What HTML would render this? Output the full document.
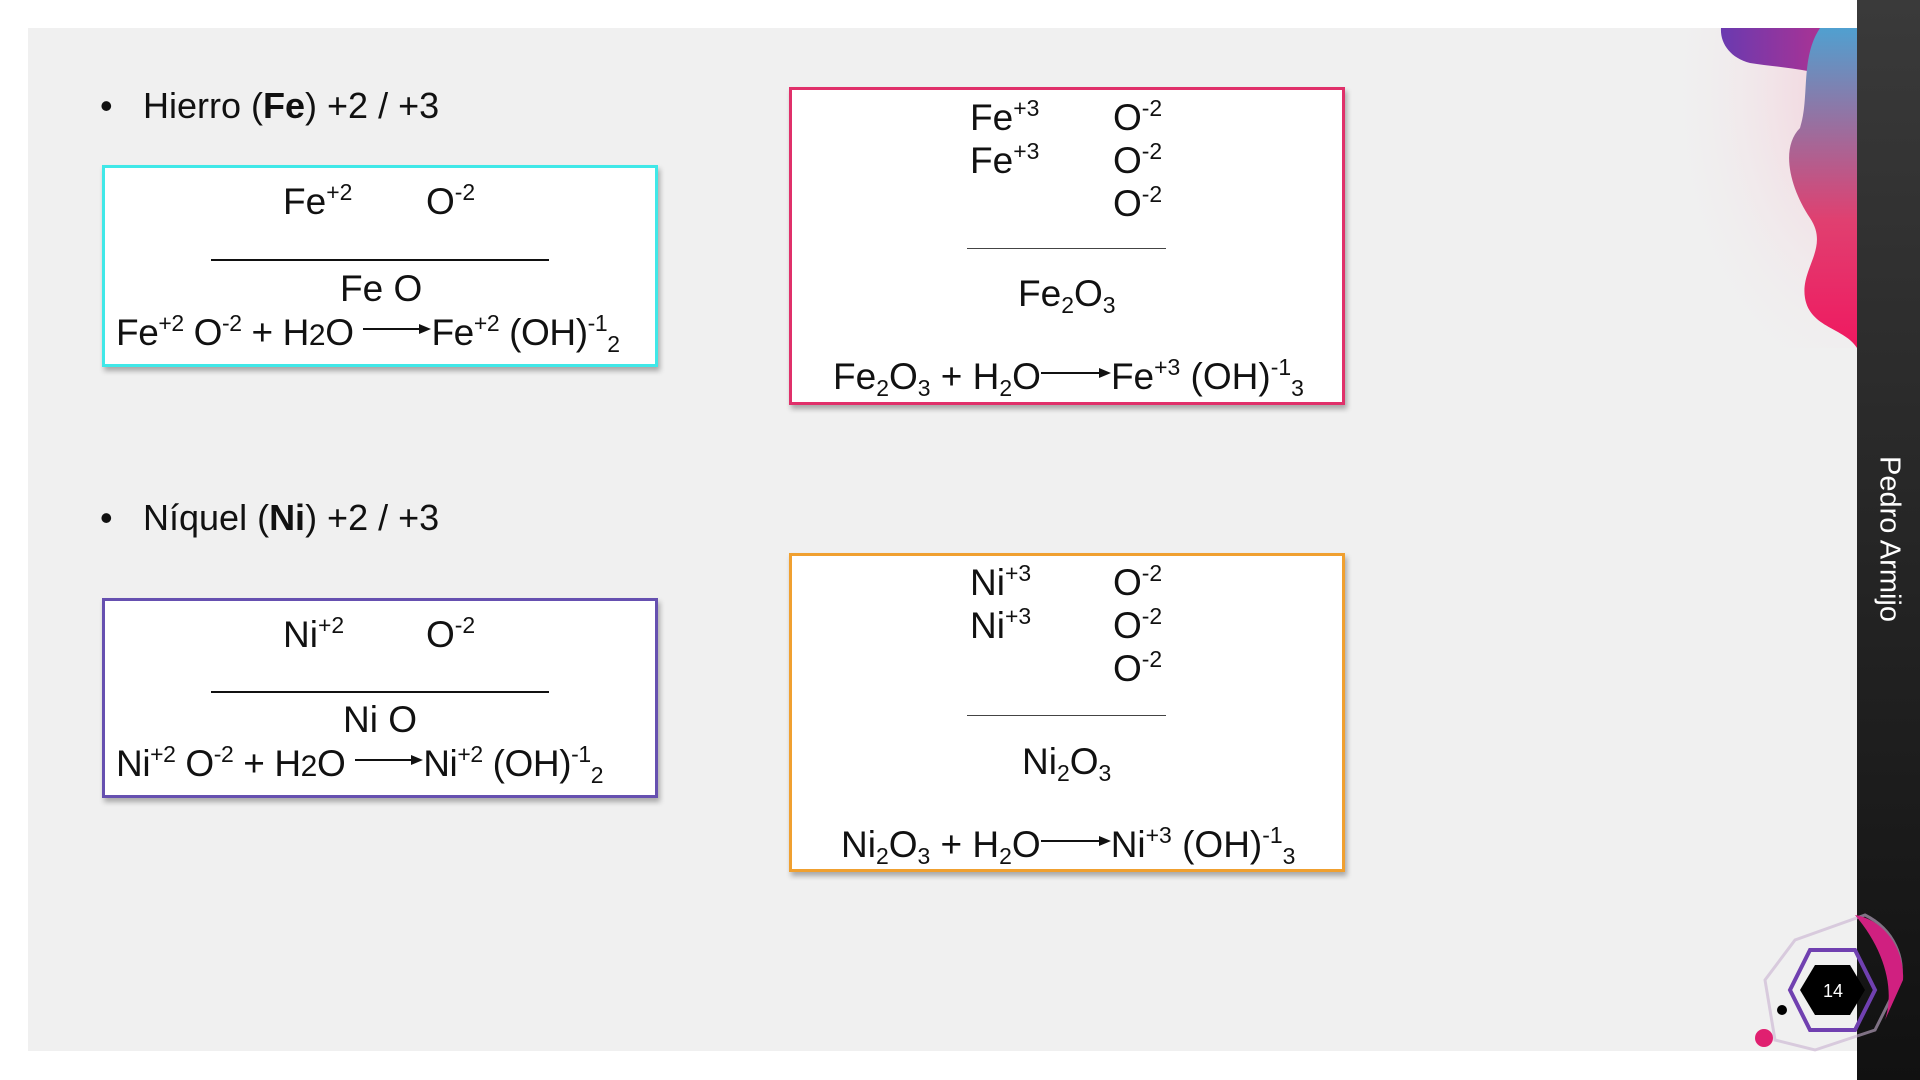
<!DOCTYPE html>
<html><head><meta charset="utf-8"><style>
html,body{margin:0;padding:0}
body{width:1920px;height:1080px;position:relative;background:#fff;overflow:hidden;font-family:"Liberation Sans",Arial,sans-serif;color:#111}
.bg{position:absolute;left:28px;top:28px;width:1829px;height:1023px;background:#f0f0f0}
.bar{position:absolute;left:1857px;top:0;width:63px;height:1080px;background:linear-gradient(#3a3a3a,#111)}
.vt{position:absolute;left:1889px;top:539px;transform:translate(-50%,-50%) rotate(90deg);color:#fff;font-size:29px;white-space:nowrap}
.t{position:absolute;white-space:nowrap;line-height:1;font-size:37px}
.box{position:absolute;background:#fff;box-sizing:border-box;box-shadow:2px 4px 5px rgba(0,0,0,.3)}
sup{font-size:62%;vertical-align:0.62em;line-height:0}
sub{font-size:62%;vertical-align:-0.3em;line-height:0}
.hl{position:absolute;background:#111}
.arr{display:inline-block;vertical-align:0.28em}
</style></head><body>
<div class="bg"></div>
<svg style="position:absolute;left:1660px;top:28px" width="197" height="320" viewBox="0 0 197 320">
<defs>
<linearGradient id="g1" x1="0" y1="0" x2="1" y2="0"><stop offset="0" stop-color="#6a3ab0"/><stop offset="1" stop-color="#c0308a"/></linearGradient>
<linearGradient id="g2" x1="0" y1="0" x2="0" y2="1"><stop offset="0" stop-color="#50a0d0"/><stop offset="0.6" stop-color="#e04070"/><stop offset="1" stop-color="#f01860"/></linearGradient>
<radialGradient id="g3" cx="1" cy="0.2" r="1"><stop offset="0" stop-color="#f6c0d0" stop-opacity=".8"/><stop offset="1" stop-color="#f0f0f0" stop-opacity="0"/></radialGradient>
</defs>
<rect x="0" y="0" width="197" height="320" fill="url(#g3)"/>
<path d="M61 0 H197 V60 C160 40 120 40 90 35 C70 30 60 15 61 0Z" fill="url(#g1)"/>
<path d="M160 0 H197 V320 C185 300 150 300 145 270 C140 240 170 220 150 190 C130 160 120 120 140 100 C150 70 140 30 160 0Z" fill="url(#g2)"/>
</svg>
<div class="bar"></div>
<div class="vt">Pedro Armijo</div>
<svg style="position:absolute;left:1755px;top:910px" width="150" height="150" viewBox="0 0 150 150">
<path d="M110 5 C140 20 150 50 145 70 L120 120 L60 140 L20 130 L10 70 L40 30Z" fill="none" stroke="#c8b0d0" stroke-width="3" opacity=".6"/>
<path d="M100 5 C130 10 150 40 148 70 L130 110 C140 80 130 40 100 5Z" fill="#d02080"/>
<polygon points="55,40 100,40 120,80 100,120 55,120 35,80" fill="none" stroke="#7040b0" stroke-width="4"/>
<polygon points="60,55 95,55 110,80 95,105 60,105 45,80" fill="#000"/>
<text x="78" y="87" fill="#fff" font-size="18" text-anchor="middle" font-family="Liberation Sans">14</text>
<circle cx="27" cy="100" r="5" fill="#000"/>
<circle cx="9" cy="128" r="9" fill="#e02070"/>
</svg>

<div class="t" style="left:100px;top:88px;font-size:36px">•</div>
<div class="t" style="left:143px;top:88px;font-size:36px">Hierro (<b>Fe</b>) +2 / +3</div>
<div class="t" style="left:100px;top:500px;font-size:36px">•</div>
<div class="t" style="left:143px;top:500px;font-size:36px">Níquel (<b>Ni</b>) +2 / +3</div>

<div class="box" style="left:102px;top:165px;width:556px;height:202px;border:3px solid #40e8e8"></div>
<div class="t" style="left:283px;top:183px">Fe<sup>+2</sup></div>
<div class="t" style="left:426px;top:183px">O<sup>-2</sup></div>
<div class="hl" style="left:211px;top:259px;width:338px;height:2px"></div>
<div class="t" style="left:340px;top:270px">Fe O</div>
<div class="t" style="left:116px;top:314px;letter-spacing:-0.4px">Fe<sup>+2</sup> O<sup>-2</sup> + H<span style="font-size:30px">2</span>O <svg class="arr" width="68" height="12"><line x1="0" y1="6" x2="60" y2="6" stroke="#111" stroke-width="2"/><polygon points="56,1 68,6 56,11" fill="#111"/></svg>Fe<sup>+2</sup> (OH)<sup>-1</sup><sub>2</sub></div>

<div class="box" style="left:102px;top:598px;width:556px;height:200px;border:3px solid #6650b0"></div>
<div class="t" style="left:283px;top:616px">Ni<sup>+2</sup></div>
<div class="t" style="left:426px;top:616px">O<sup>-2</sup></div>
<div class="hl" style="left:211px;top:691px;width:338px;height:2px"></div>
<div class="t" style="left:343px;top:701px">Ni O</div>
<div class="t" style="left:116px;top:745px;letter-spacing:-0.4px">Ni<sup>+2</sup> O<sup>-2</sup> + H<span style="font-size:30px">2</span>O <svg class="arr" width="68" height="12"><line x1="0" y1="6" x2="60" y2="6" stroke="#111" stroke-width="2"/><polygon points="56,1 68,6 56,11" fill="#111"/></svg>Ni<sup>+2</sup> (OH)<sup>-1</sup><sub>2</sub></div>

<div class="box" style="left:789px;top:87px;width:556px;height:318px;border:3px solid #e0306a"></div>
<div class="t" style="left:970px;top:99px">Fe<sup>+3</sup></div>
<div class="t" style="left:970px;top:142px">Fe<sup>+3</sup></div>
<div class="t" style="left:1113px;top:99px">O<sup>-2</sup></div>
<div class="t" style="left:1113px;top:142px">O<sup>-2</sup></div>
<div class="t" style="left:1113px;top:185px">O<sup>-2</sup></div>
<div class="hl" style="left:967px;top:248px;width:199px;height:1px;background:#444"></div>
<div class="t" style="left:1018px;top:275px">Fe<sub>2</sub>O<sub>3</sub></div>
<div class="t" style="left:833px;top:358px">Fe<sub>2</sub>O<sub>3</sub> + H<sub>2</sub>O<svg class="arr" width="70" height="12"><line x1="0" y1="6" x2="62" y2="6" stroke="#111" stroke-width="2"/><polygon points="58,1 70,6 58,11" fill="#111"/></svg>Fe<sup>+3</sup> (OH)<sup>-1</sup><sub>3</sub></div>

<div class="box" style="left:789px;top:553px;width:556px;height:319px;border:3px solid #f0a030"></div>
<div class="t" style="left:970px;top:564px">Ni<sup>+3</sup></div>
<div class="t" style="left:970px;top:607px">Ni<sup>+3</sup></div>
<div class="t" style="left:1113px;top:564px">O<sup>-2</sup></div>
<div class="t" style="left:1113px;top:607px">O<sup>-2</sup></div>
<div class="t" style="left:1113px;top:650px">O<sup>-2</sup></div>
<div class="hl" style="left:967px;top:715px;width:199px;height:1px;background:#444"></div>
<div class="t" style="left:1022px;top:743px">Ni<sub>2</sub>O<sub>3</sub></div>
<div class="t" style="left:841px;top:826px">Ni<sub>2</sub>O<sub>3</sub> + H<sub>2</sub>O<svg class="arr" width="70" height="12"><line x1="0" y1="6" x2="62" y2="6" stroke="#111" stroke-width="2"/><polygon points="58,1 70,6 58,11" fill="#111"/></svg>Ni<sup>+3</sup> (OH)<sup>-1</sup><sub>3</sub></div>
</body></html>
